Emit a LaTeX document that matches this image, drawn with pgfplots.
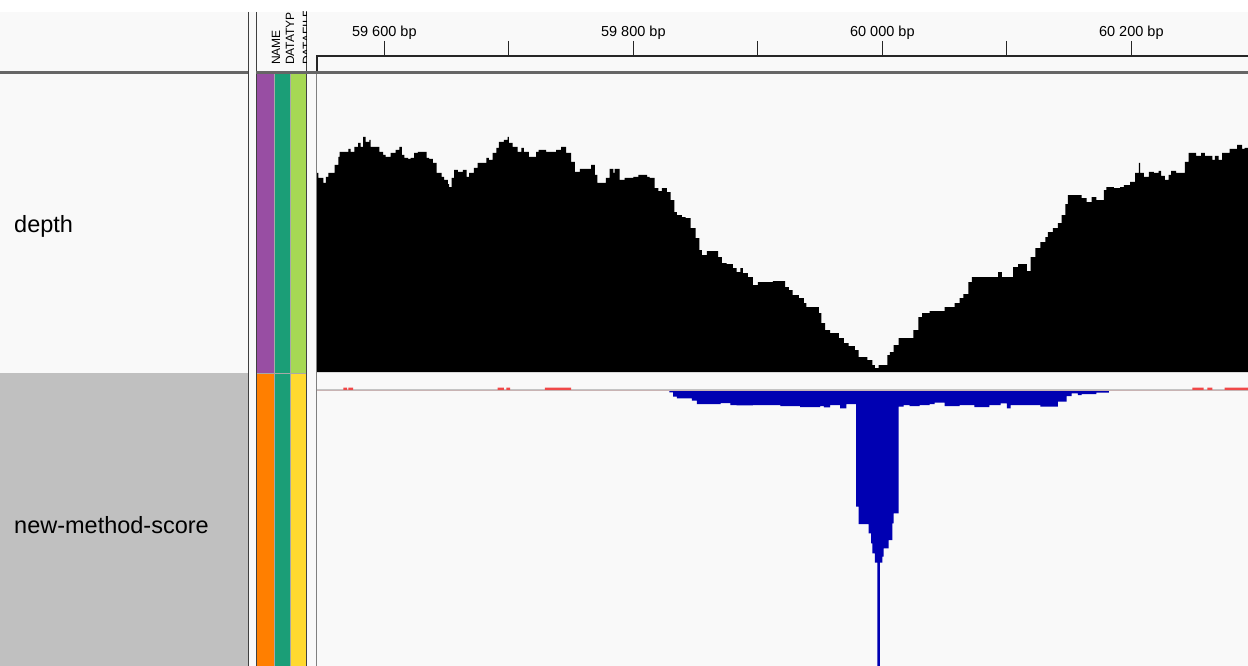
\documentclass[border=0pt]{standalone}
\usepackage{fontspec}
\setmainfont{Liberation Sans}
\usepackage{pgfplots}
\pgfplotsset{compat=1.18}
\usepackage{pgfplotstable}
\definecolor{bgl}{HTML}{F9F9F9}
\definecolor{selgray}{HTML}{C0C0C0}
\definecolor{sepgray}{HTML}{A8A8A8}
\definecolor{apurple}{HTML}{984EA3}
\definecolor{ateal}{HTML}{1B9E77}
\definecolor{agreen}{HTML}{A6D854}
\definecolor{aorange}{HTML}{FF7F00}
\definecolor{ayellow}{HTML}{FFD92F}
\definecolor{igvblue}{HTML}{0000B2}
\definecolor{igvred}{HTML}{F04848}
\definecolor{basegray}{HTML}{C4C4C4}

\pgfplotstableread{
x y
59545 199
59547 194
59551 189
59553 195
59555 199
59560 207
59563 215
59564 220
59571 223
59573 220
59576 225
59579 229
59581 225
59583 235
59585 230
59588 232
59589 225
59596 220
59599 217
59601 215
59605 219
59609 222
59612 225
59614 217
59616 214
59619 213
59621 214
59624 219
59627 220
59634 214
59636 213
59639 209
59642 199
59646 195
59648 192
59651 188
59652 185
59654 194
59656 202
59659 200
59663 202
59666 195
59668 199
59672 204
59675 209
59682 214
59684 212
59687 219
59690 224
59692 230
59696 232
59699 235
59700 229
59703 225
59707 220
59710 224
59712 220
59716 215
59722 220
59724 222
59730 220
59738 222
59742 225
59746 219
59750 210
59753 200
59757 203
59766 207
59769 197
59771 189
59778 194
59781 203
59784 199
59785 203
59789 192
59793 194
59800 195
59804 197
59811 195
59813 194
59817 184
59820 181
59823 184
59827 180
59830 172
59833 160
59835 157
59839 155
59842 154
59846 144
59850 134
59853 122
59855 117
59859 121
59868 115
59871 109
59875 108
59880 104
59883 100
59886 104
59888 99
59892 95
59896 87
59900 90
59912 91
59922 85
59925 82
59928 77
59933 74
59937 69
59939 65
59949 59
59951 49
59954 42
59958 39
59965 34
59969 29
59973 26
59978 22
59981 15
59988 12
59992 7
59994 4
59997 7
60004 17
60006 20
60009 27
60013 34
60025 42
60029 55
60032 59
60038 61
60050 65
60058 69
60062 74
60065 78
60069 90
60072 95
60093 100
60096 95
60105 105
60109 108
60116 101
60119 115
60123 124
60127 130
60131 135
60133 140
60137 144
60141 149
60144 157
60147 168
60149 177
60160 174
60164 170
60168 175
60172 172
60178 182
60180 185
60186 184
60191 185
60194 187
60199 190
60203 199
60206 209
60207 199
60210 195
60214 200
60218 199
60222 201
60224 196
60227 192
60230 197
60232 201
60236 199
60243 210
60246 219
60252 216
60256 219
60259 216
60265 212
60267 216
60270 212
60273 219
60279 223
60285 227
60289 223
60291 224
60294 224
}\depthtab

\pgfplotstableread{
x y
59826 0
59829 -2.3
59832 -6.7
59835 -8.3
59847 -10.7
59851 -14
59870 -13
59878 -15
59883 -15.3
59896 -15
59918 -16
59934 -17
59950 -16
59953 -17.3
59958 -15
59966 -18.3
59971 -14
59979 -116.7
59981 -134
59989 -143.3
59991 -153.3
59992 -163.3
59994 -172.7
59996 -290
59998 -172.7
60000 -166.7
60001 -158.3
60005 -150
60008 -133.3
60009 -123.3
60013 -16.7
60017 -15
60022 -16
60030 -15
60038 -14
60042 -12.7
60050 -16
60062 -15
60074 -17
60086 -15
60095 -13.3
60100 -18.3
60103 -15
60127 -16.7
60141 -11.7
60148 -6
60152 -3.3
60157 -5
60160 -4
60172 -2.7
60182 0
}\scoretab

\pgfplotstableread{
x y
59545 0
59567 2.3
59570 0
59571 2.3
59575 0
59691 2.3
59696 0
59698 2.3
59701 0
59729 2.3
59750 0
60249 2.3
60258 0
60261 2.3
60265 0
60275 2.3
60294 2.3
}\redtab

\begin{document}
\begin{tikzpicture}
\useasboundingbox (0pt,0pt) rectangle (1248pt,-666pt);
% backgrounds
\fill[bgl] (0pt,0pt) rectangle (1248pt,-666pt);
\fill[white] (0pt,0pt) rectangle (1248pt,-12pt);
\fill[selgray] (0pt,-373pt) rectangle (248pt,-666pt);
% attribute columns
\fill[sepgray] (256pt,-73pt) rectangle (307pt,-666pt);
\fill[apurple] (257pt,-74pt) rectangle (273.5pt,-372.5pt);
\fill[ateal] (274.8pt,-74pt) rectangle (290pt,-372.5pt);
\fill[agreen] (291.3pt,-74pt) rectangle (306pt,-372.5pt);
\fill[aorange] (257pt,-373.8pt) rectangle (273.5pt,-666pt);
\fill[ateal] (274.8pt,-373.8pt) rectangle (290pt,-666pt);
\fill[ayellow] (291.3pt,-373.8pt) rectangle (306pt,-666pt);

% ruler
\begin{axis}[at={(317pt,-72pt)}, anchor=south west, scale only axis,
  width=931pt, height=16pt, xmin=59545.9, xmax=60293.7, ymin=0, ymax=1,
  axis x line*=top, hide y axis, axis line style={draw=none},
  scaled x ticks=false,
  xtick={59600,59700,59800,59900,60000,60100,60200},
  xticklabels={59 600 bp,,59 800 bp,,60 000 bp,,60 200 bp},
  tick align=outside, major tick length=15pt,
  tick style={black!85, line width=1pt},
  xticklabel style={font=\fontsize{14.5}{16}\selectfont, text=black, yshift=-2pt},
  clip=false]
\addplot[draw=none] coordinates {(59600,0.5)};
\end{axis}

% depth track
\begin{axis}[at={(317pt,-372pt)}, anchor=south west, scale only axis,
  width=931pt, height=297pt, xmin=59545.9, xmax=60293.7, ymin=0, ymax=297,
  hide axis, clip=true]
\addplot[const plot, fill=black, draw=none] table {\depthtab} \closedcycle;
\end{axis}

% score track
\begin{axis}[at={(317pt,-666pt)}, anchor=south west, scale only axis,
  width=931pt, height=293pt, xmin=59545.9, xmax=60293.7, ymin=-276, ymax=17,
  hide axis, clip=true]
\addplot[const plot, fill=igvblue, draw=none] table {\scoretab} \closedcycle;
\addplot[line width=1.3pt, color=basegray] coordinates {(59545.9,0) (60293.7,0)};
\addplot[const plot, fill=igvred, draw=none] table {\redtab} \closedcycle;
\end{axis}

% frame lines
\draw[black!75, line width=1.3pt] (248.5pt,-12pt) -- (248.5pt,-666pt);
\draw[black!75, line width=1.3pt] (256.3pt,-12pt) -- (256.3pt,-666pt);
\draw[black!75, line width=1.3pt] (306.8pt,-12pt) -- (306.8pt,-666pt);
\draw[gray, line width=1pt] (316.6pt,-72pt) -- (316.6pt,-666pt);
\draw[black!85, line width=1.3pt] (317pt,-72pt) -- (317pt,-56pt) -- (1248pt,-56pt);
\draw[black!60, line width=2.6pt] (0pt,-72.3pt) -- (248pt,-72.3pt);
\draw[black!60, line width=2.6pt] (256pt,-72.3pt) -- (1248pt,-72.3pt);

% attribute header labels
\begin{scope}
\clip (257pt,-12pt) rectangle (306pt,-70pt);
\node[rotate=90, anchor=base west, inner sep=0pt, font=\fontsize{12}{12}\selectfont] at (280pt,-65pt) {NAME};
\node[rotate=90, anchor=base west, inner sep=0pt, font=\fontsize{12}{12}\selectfont] at (294pt,-65pt) {DATATYPE};
\node[rotate=90, anchor=base west, inner sep=0pt, font=\fontsize{12}{12}\selectfont] at (311pt,-65pt) {DATAFILE};
\end{scope}

% track names
\node[anchor=base west, inner sep=0pt, font=\fontsize{23.5}{28}\selectfont] at (14pt,-232pt) {depth};
\node[anchor=base west, inner sep=0pt, font=\fontsize{23.5}{28}\selectfont] at (14pt,-533pt) {new-method-score};
\end{tikzpicture}
\end{document}
